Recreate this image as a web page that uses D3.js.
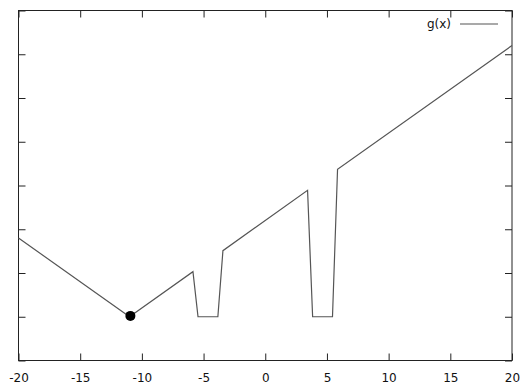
<!DOCTYPE html>
<meta charset="utf-8">
<style>
 body { margin: 0; background: #fff; }
 .border { fill: none; stroke: #222; stroke-width: 1px; }
 .tick line { stroke: #222; }
 .line { fill: none; stroke: #555; stroke-width: 1.2px; }
 text { font-family: "DejaVu Sans", sans-serif; font-size: 12px; fill: #111; }
</style>
<svg class="chart"></svg>
<script src="https://cdn.jsdelivr.net/npm/d3@7"></script>
<script>

 // vertices of g(x)
 var xs = [-20, -11, -5.86, -5.45, -3.84, -3.43, 3.43, 3.84, 5.45, 5.86, 20];
 var ys = [2.8, 1, 2.03, 1, 1, 2.51, 3.89, 1, 1, 4.37, 7.2];
 var xTicks = [-20, -15, -10, -5, 0, 5, 10, 15, 20];
 var yTicks = [0, 1, 2, 3, 4, 5, 6, 7, 8];
 var dot = [-10.93, 1.02];

 var W = 522, H = 387;
 var mLeft = 18.5, mRight = 512, mTop = 10.5, mBottom = 360.5;

 var svg = d3.select(".chart").attr("width", W).attr("height", H);

 var x = d3.scaleLinear().domain([-20, 20]).range([mLeft, mRight]);
 var y = d3.scaleLinear().domain([0, 8]).range([mBottom, mTop]);

 // axes, ticks pointing inward on all sides
 svg.append("g").attr("transform", "translate(0," + mBottom + ")")
    .call(d3.axisBottom(x).tickValues(xTicks).tickSize(-7).tickPadding(13).tickFormat(function(d) { return String(d); }))
    .call(function(g) { g.select(".domain").remove(); g.selectAll("text").style("font-size", "12px").attr("fill", "#111"); });
 svg.append("g").attr("transform", "translate(0," + mTop + ")")
    .call(d3.axisTop(x).tickValues(xTicks).tickSize(-7).tickFormat(""))
    .call(function(g) { g.select(".domain").remove(); });
 svg.append("g").attr("transform", "translate(" + mLeft + ",0)")
    .call(d3.axisLeft(y).tickValues(yTicks).tickSize(-7).tickFormat(""))
    .call(function(g) { g.select(".domain").remove(); });
 svg.append("g").attr("transform", "translate(" + mRight + ",0)")
    .call(d3.axisRight(y).tickValues(yTicks).tickSize(-7).tickFormat(""))
    .call(function(g) { g.select(".domain").remove(); });

 svg.append("rect").attr("class", "border")
    .attr("x", mLeft).attr("y", mTop).attr("width", mRight - mLeft).attr("height", mBottom - mTop);

 var pts = xs.map(function(v, i) { return [v, ys[i]]; });
 var line = d3.line().x(function(d) { return x(d[0]); }).y(function(d) { return y(d[1]); });

 svg.append("path").datum(pts).attr("class", "line").attr("d", line);

 svg.append("circle").attr("cx", x(dot[0])).attr("cy", y(dot[1])).attr("r", 5).attr("fill", "#000");

 // legend
 var lg = svg.append("g").attr("transform", "translate(0,24)");
 lg.append("text").attr("x", 451).attr("y", 4).attr("text-anchor", "end").text("g(x)");
 lg.append("line").attr("x1", 460).attr("x2", 498).attr("y1", 0).attr("y2", 0)
   .attr("stroke", "#555").attr("stroke-width", 1.2);

</script>
